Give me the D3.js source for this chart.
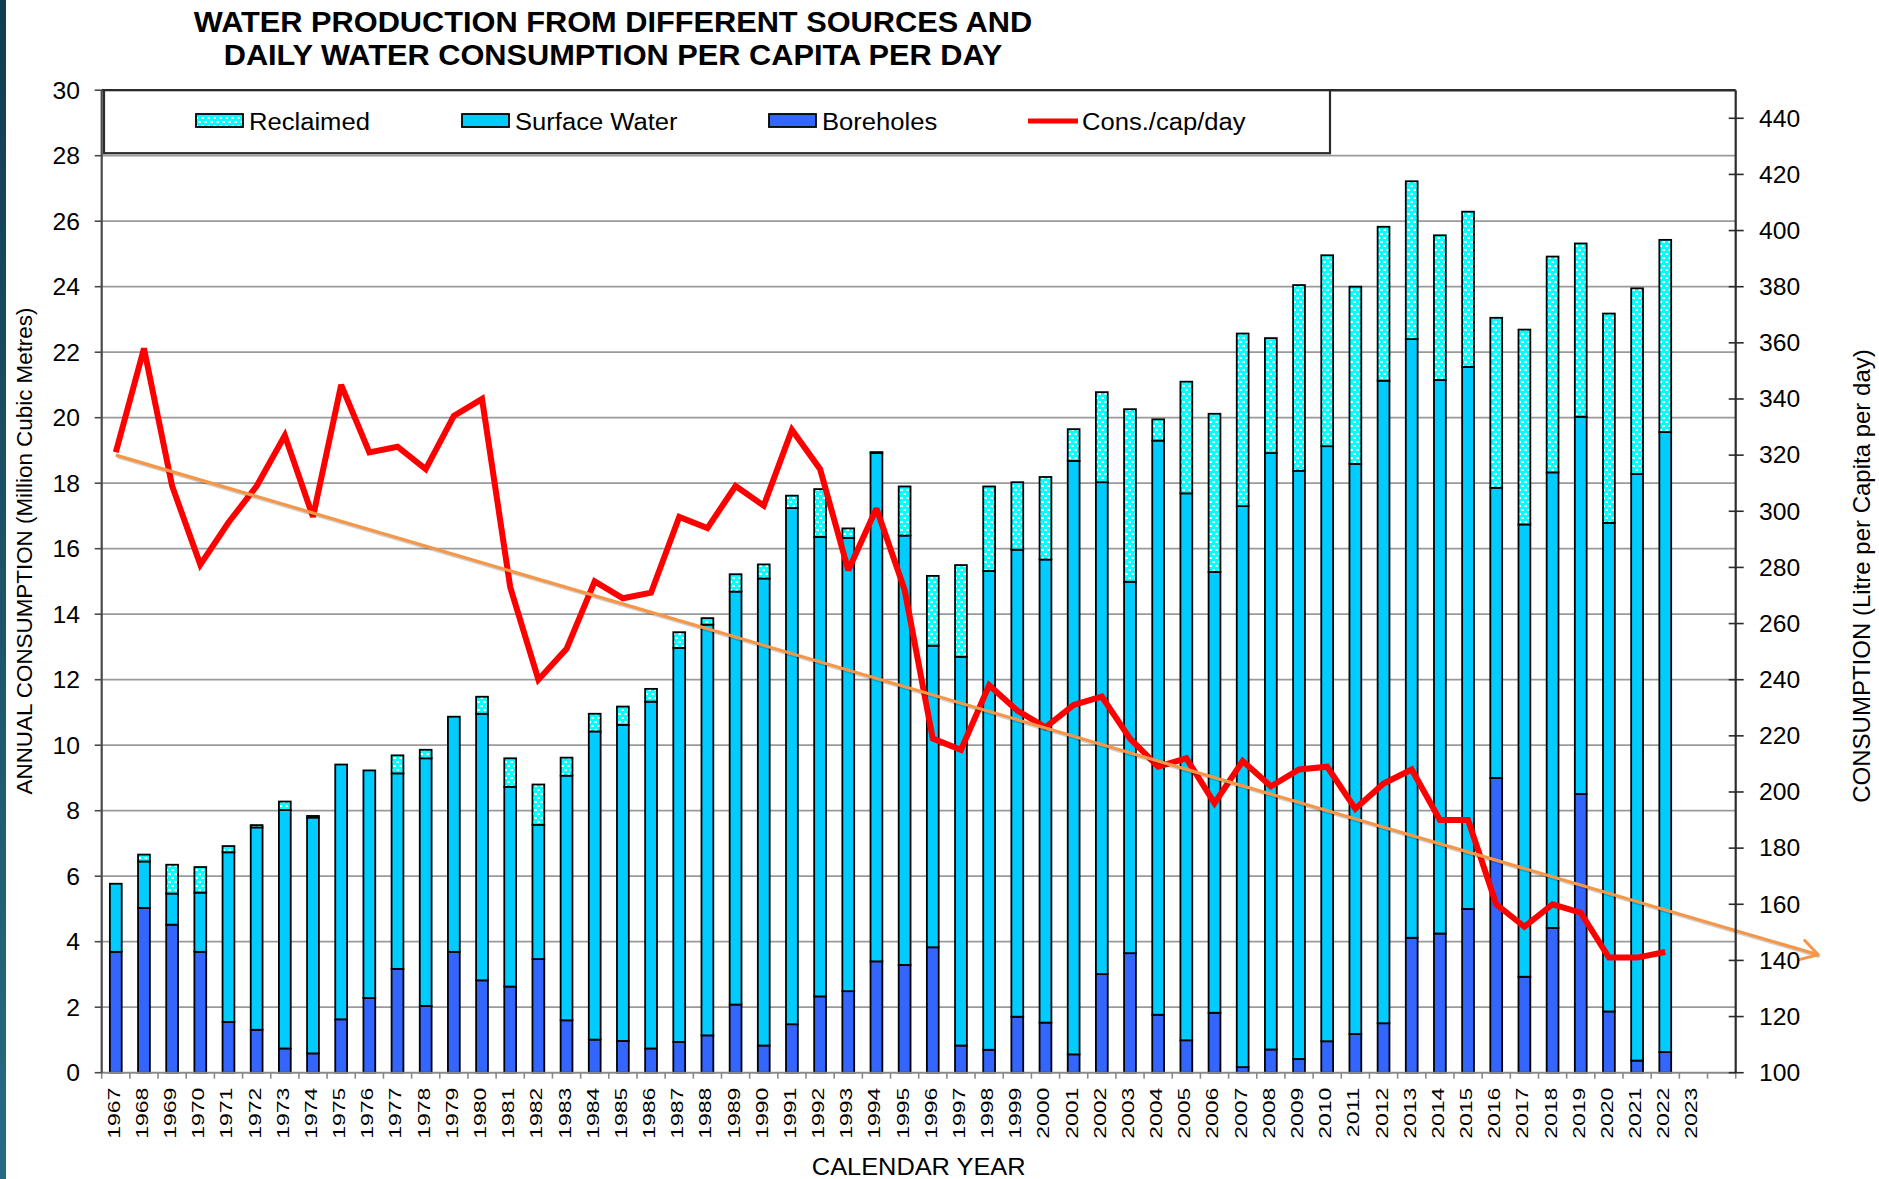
<!DOCTYPE html>
<html>
<head>
<meta charset="utf-8">
<script src="https://cdn.jsdelivr.net/npm/d3@7/dist/d3.min.js"></script>
<style>
  html, body { margin:0; padding:0; background:#ffffff; }
  svg { display:block; }
  text { font-family: "Liberation Sans", Arial, Helvetica, sans-serif; fill:#000; }
</style>
</head>
<body>
<svg id="chart" width="1879" height="1179"></svg>
<script>
// ---------------- DATA ----------------
const categories = ["1967","1968","1969","1970","1971","1972","1973","1974","1975","1976",
  "1977","1978","1979","1980","1981","1982","1983","1984","1985","1986","1987","1988","1989",
  "1990","1991","1992","1993","1994","1995","1996","1997","1998","1999","2000","2001","2002",
  "2003","2004","2005","2006","2007","2008","2009","2010","2011","2012","2013","2014","2015",
  "2016","2017","2018","2019","2020","2021","2022","2023","2024"];
const tickLabels = ["1967","1968","1969","1970","1971","1972","1973","1974","1975","1976",
  "1977","1978","1979","1980","1981","1982","1983","1984","1985","1986","1987","1988","1989",
  "1990","1991","1992","1993","1994","1995","1996","1997","1998","1999","2000","2001","2002",
  "2003","2004","2005","2006","2007","2008","2009","2010","2011","2012","2013","2014","2015",
  "2016","2017","2018","2019","2020","2021","2022","2023",""];
const dataYears = [1967,1968,1969,1970,1971,1972,1973,1974,1975,1976,1977,1978,1979,1980,1981,
  1982,1983,1984,1985,1986,1987,1988,1989,1990,1991,1992,1993,1994,1995,1996,1997,1998,1999,
  2000,2001,2002,2003,2004,2005,2006,2007,2008,2009,2010,2011,2012,2013,2014,2015,2016,2017,
  2018,2019,2020,2021,2022];
// Million cubic metres
const boreholes = [3.69,5.03,4.52,3.69,1.55,1.31,0.74,0.59,1.63,2.28,3.17,2.04,3.69,2.82,2.63,
  3.47,1.60,1.01,0.97,0.74,0.94,1.14,2.08,0.83,1.48,2.33,2.49,3.40,3.29,3.83,0.83,0.70,1.71,
  1.53,0.56,3.01,3.65,1.77,0.99,1.83,0.17,0.71,0.42,0.96,1.18,1.51,4.12,4.25,5.00,9.00,2.93,
  4.42,8.51,1.87,0.37,0.63];
const surfaceWater = [2.08,1.42,0.95,1.81,5.18,6.18,7.28,7.20,7.78,6.95,5.97,7.56,7.18,8.14,6.10,
  4.10,7.47,9.41,9.65,10.59,12.03,12.54,12.61,14.26,15.76,14.03,13.84,15.52,13.11,9.21,11.87,
  14.62,14.26,14.14,18.12,15.02,11.34,17.53,16.70,13.46,17.13,18.21,17.96,18.17,17.41,19.62,
  18.28,16.90,16.55,8.86,13.81,13.91,11.52,14.92,17.91,18.93];
const reclaimed = [0,0.21,0.88,0.78,0.19,0.07,0.26,0.05,0,0,0.55,0.26,0,0.52,0.87,1.23,0.55,
  0.54,0.56,0.39,0.48,0.20,0.53,0.43,0.38,1.46,0.29,0.03,1.50,2.13,2.80,2.58,2.06,2.52,0.97,
  2.75,5.27,0.65,3.41,4.83,5.27,3.51,5.67,5.83,5.41,4.70,4.82,4.42,4.74,5.19,5.95,6.59,5.29,
  6.39,5.67,5.87];
// Litre per capita per day
const consumption = [321,358,309,281,296,309,327,298,345,321,323,315,334,340,273,240,251,275,
  269,271,298,294,309,302,329,315,279,301,272,219,215,238,229,223,231,234,219,209,212,196,211,
  202,208,209,194,203,208,190,190,160,152,160,157,141,141,143];
const trendLine = [{year:1967, value:320},{year:2027.43, value:142}];
const leftTicks = [0,2,4,6,8,10,12,14,16,18,20,22,24,26,28,30];
const rightTicks = [100,120,140,160,180,200,220,240,260,280,300,320,340,360,380,400,420,440];
const seriesNames = ["Reclaimed","Surface Water","Boreholes","Cons./cap/day"];
const titleLines = ["WATER PRODUCTION FROM DIFFERENT SOURCES AND",
                    "DAILY WATER CONSUMPTION PER CAPITA PER DAY"];
const xTitle = "CALENDAR YEAR";
const yLeftTitle = "ANNUAL CONSUMPTION (Million Cubic Metres)";
const yRightTitle = "CONSUMPTION (Litre per Capita per day)";

// ---------------- LAYOUT ----------------
const svg = d3.select("#chart");
const plot = {left:101.7, right:1735.7, top:90.2, bottom:1072.7};
const colors = {bore:"#3366FF", surf:"#00CCFF", recl:"#00FFFF", cons:"#FF0000", trend:"#F79646"};

const x = d3.scaleBand().domain(categories).range([plot.left, plot.right])
  .paddingInner(0.58).paddingOuter(0.29);
const xYear = d3.scaleLinear()
  .domain([+categories[0] - 0.5, +categories[0] + categories.length - 0.5])
  .range([plot.left, plot.right]);
const yL = d3.scaleLinear().domain([0,30]).range([plot.bottom, plot.top]);
const yR = d3.scaleLinear().domain([100,450]).range([plot.bottom, plot.top]);

// defs
const defs = svg.append("defs");
const pat = defs.append("pattern").attr("id","reclPat").attr("patternUnits","userSpaceOnUse")
  .attr("width",6).attr("height",8);
pat.append("rect").attr("width",6).attr("height",8).attr("fill",colors.recl);
pat.append("rect").attr("x",0.5).attr("y",1).attr("width",2.5).attr("height",2).attr("fill","#ffffff");
pat.append("rect").attr("x",3.5).attr("y",5).attr("width",2.5).attr("height",2).attr("fill","#ffffff");
const grad = defs.append("linearGradient").attr("id","edgeGrad").attr("x1",0).attr("y1",0).attr("x2",0).attr("y2",1);
grad.append("stop").attr("offset","0%").attr("stop-color","#123c50");
grad.append("stop").attr("offset","100%").attr("stop-color","#256c83");
const mk = defs.append("marker").attr("id","arrowHead").attr("markerUnits","userSpaceOnUse")
  .attr("viewBox","-20 -12 24 24").attr("refX",0).attr("refY",0)
  .attr("markerWidth",24).attr("markerHeight",24).attr("orient","auto");
mk.append("path").attr("d","M-17,-10 L0,0 L-17,10").attr("fill","none")
  .attr("stroke",colors.trend).attr("stroke-width",3).attr("stroke-linecap","round").attr("stroke-linejoin","round");

// left dark strip
svg.append("rect").attr("x",0).attr("y",0).attr("width",6).attr("height",1179).attr("fill","url(#edgeGrad)");

// helper for text
function txt(g, px, py, str, o) {
  o = o || {};
  const t = g.append("text")
    .attr("transform", `translate(${px},${py}) rotate(${o.rot||0}) scale(${o.sx||1},${o.sy||1})`)
    .attr("text-anchor", o.anchor || "start")
    .style("font-size", (o.size||20) + "px")
    .style("font-weight", o.weight || "normal")
    .text(str);
  if (o.dy) t.attr("dy", o.dy);
  return t;
}

// gridlines
const gGrid = svg.append("g");
leftTicks.filter(t => t > 0 && t < 30).forEach(t => {
  gGrid.append("line").attr("x1",plot.left).attr("x2",plot.right)
    .attr("y1",yL(t)).attr("y2",yL(t)).attr("stroke","#9a9a9a").attr("stroke-width",1.7);
});

// bars
const rows = dataYears.map((yr,i) => ({year:String(yr), boreholes:boreholes[i], surface:surfaceWater[i], reclaimed:reclaimed[i]}));
const stacked = d3.stack().keys(["boreholes","surface","reclaimed"])(rows);
const fills = {boreholes:colors.bore, surface:colors.surf, reclaimed:"url(#reclPat)"};
const gBars = svg.append("g");
stacked.forEach(layer => {
  gBars.selectAll(null).data(layer.filter(d => d[1] - d[0] > 0)).enter().append("rect")
    .attr("x", d => x(d.data.year))
    .attr("width", x.bandwidth())
    .attr("y", d => yL(d[1]))
    .attr("height", d => yL(d[0]) - yL(d[1]))
    .attr("fill", fills[layer.key])
    .attr("stroke","#000").attr("stroke-width",1.8);
});

// consumption line
const consData = dataYears.map((yr,i) => ({year:yr, value:consumption[i]}));
const line = d3.line().x(d => xYear(d.year)).y(d => yR(d.value));
svg.append("path").datum(consData).attr("d", line).attr("fill","none")
  .attr("stroke",colors.cons).attr("stroke-width",6).attr("stroke-linejoin","miter").attr("stroke-miterlimit",2.5);

// trend line (with faint shadow)
svg.append("path").datum(trendLine).attr("d", line).attr("fill","none")
  .attr("stroke","#000").attr("stroke-opacity",0.18).attr("stroke-width",3)
  .attr("transform","translate(1.5,2)");
svg.append("path").datum(trendLine).attr("d", line).attr("fill","none")
  .attr("stroke",colors.trend).attr("stroke-width",3.2).attr("marker-end","url(#arrowHead)");

// axes lines / frame
svg.append("line").attr("x1",plot.left).attr("x2",plot.right).attr("y1",plot.bottom).attr("y2",plot.bottom)
  .attr("stroke","#8a8a8a").attr("stroke-width",2);
svg.append("line").attr("x1",plot.left).attr("x2",plot.right).attr("y1",plot.top).attr("y2",plot.top)
  .attr("stroke","#2b2b2b").attr("stroke-width",2.5);
svg.append("line").attr("x1",plot.left).attr("x2",plot.left).attr("y1",plot.top).attr("y2",plot.bottom)
  .attr("stroke","#4a4a4a").attr("stroke-width",2.2);
svg.append("line").attr("x1",plot.right).attr("x2",plot.right).attr("y1",plot.top).attr("y2",plot.bottom)
  .attr("stroke","#2b2b2b").attr("stroke-width",2.2);

// x ticks & labels
const gX = svg.append("g");
d3.range(categories.length + 1).forEach(i => {
  const xx = xYear(+categories[0] - 0.5 + i);
  gX.append("line").attr("x1",xx).attr("x2",xx).attr("y1",plot.bottom).attr("y2",plot.bottom+6)
    .attr("stroke","#8a8a8a").attr("stroke-width",1.6);
});
categories.forEach((c,i) => {
  if (!tickLabels[i]) return;
  txt(gX, x(c) + x.bandwidth()/2 - 2, plot.bottom + 15, tickLabels[i],
      {rot:-90, sy:0.72, anchor:"end", size:23, dy:"0.36em"});
});

// left ticks & labels
const gYL = svg.append("g");
leftTicks.forEach(t => {
  gYL.append("line").attr("x1",plot.left-7).attr("x2",plot.left).attr("y1",yL(t)).attr("y2",yL(t))
    .attr("stroke","#4a4a4a").attr("stroke-width",1.6);
  txt(gYL, 80, yL(t) + 8.3, String(t), {anchor:"end", size:23.5, sx:1.05});
});

// right ticks & labels
const gYR = svg.append("g");
rightTicks.forEach(t => {
  gYR.append("line").attr("x1",plot.right-7).attr("x2",plot.right+8).attr("y1",yR(t)).attr("y2",yR(t))
    .attr("stroke","#2b2b2b").attr("stroke-width",1.6);
  txt(gYR, 1759, yR(t) + 8.3, String(t), {anchor:"start", size:23.5, sx:1.05});
});

// titles
txt(svg, 613, 32, titleLines[0], {anchor:"middle", size:30, weight:"bold", sx:1.025});
txt(svg, 613, 64.5, titleLines[1], {anchor:"middle", size:30, weight:"bold", sx:1.025});
txt(svg, (plot.left+plot.right)/2, 1175, xTitle, {anchor:"middle", size:23.5, sx:1.08});
txt(svg, 32, 551, yLeftTitle, {anchor:"middle", size:22.4, rot:-90});
txt(svg, 1870, 576, yRightTitle, {anchor:"middle", size:24, rot:-90});

// legend
const gLeg = svg.append("g");
gLeg.append("rect").attr("x",104).attr("y",plot.top).attr("width",1226).attr("height",63)
  .attr("fill","#fff").attr("stroke","#2b2b2b").attr("stroke-width",2.2);
const legY = 121;
const legItems = [
  {name:seriesNames[0], fill:"url(#reclPat)", x:196},
  {name:seriesNames[1], fill:colors.surf, x:462},
  {name:seriesNames[2], fill:colors.bore, x:769}
];
legItems.forEach(it => {
  gLeg.append("rect").attr("x",it.x).attr("y",legY-7).attr("width",47).attr("height",13)
    .attr("fill",it.fill).attr("stroke","#000").attr("stroke-width",1.8);
  txt(gLeg, it.x + 53, legY + 8.8, it.name, {size:24.5, sx:1.045});
});
gLeg.append("line").attr("x1",1028).attr("x2",1078).attr("y1",legY).attr("y2",legY)
  .attr("stroke",colors.cons).attr("stroke-width",5);
txt(gLeg, 1082, legY + 8.8, seriesNames[3], {size:24.5, sx:1.045});
</script>
</body>
</html>
